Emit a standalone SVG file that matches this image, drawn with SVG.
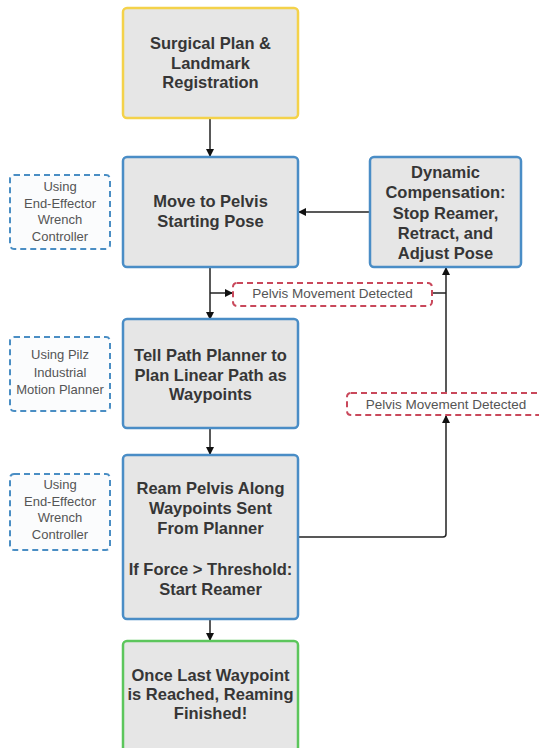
<svg xmlns="http://www.w3.org/2000/svg" width="539" height="748" viewBox="0 0 539 748">
<style>
.box{fill:#e6e6e6;stroke-width:2.5}
.blue{stroke:#4a8dc6}
.yellow{stroke:#f4d24a}
.green{stroke:#5cc65c}
.side{fill:#fbfcfd;stroke:#4a8ec4;stroke-width:2;stroke-dasharray:6 4}
.tag{fill:#ffffff;stroke:#c9485b;stroke-width:2;stroke-dasharray:6 4}
.t{font-family:"Liberation Sans",Arial,sans-serif;font-weight:bold;font-size:16.5px;fill:#363636;text-anchor:middle}
.s{font-family:"Liberation Sans",Arial,sans-serif;font-size:13px;fill:#555555;text-anchor:middle}
.l{font-family:"Liberation Sans",Arial,sans-serif;font-size:13.5px;fill:#555555;text-anchor:middle}
.c{fill:none;stroke:#222222;stroke-width:1.5}
</style>
<defs>
<marker id="ah" markerWidth="8" markerHeight="8" refX="7" refY="4" orient="auto" markerUnits="userSpaceOnUse">
<path d="M0,0 L8,4 L0,8 Z" fill="#111111"/>
</marker>
</defs>
<rect width="539" height="748" fill="#ffffff"/>
<g id="connectors">
<path class="c" d="M210,118 V156" marker-end="url(#ah)"/>
<path class="c" d="M370,212 H299" marker-end="url(#ah)"/>
<path class="c" d="M210,267 V319" marker-end="url(#ah)"/>
<path class="c" d="M210,293 H232" marker-end="url(#ah)"/>
<path class="c" d="M432,293 H446"/>
<path class="c" d="M446,393 V268" marker-end="url(#ah)"/>
<path class="c" d="M298,537 H443 Q446,537 446,534 V416" marker-end="url(#ah)"/>
<path class="c" d="M210,428 V454" marker-end="url(#ah)"/>
<path class="c" d="M210,619 V640" marker-end="url(#ah)"/>
</g>
<g id="n1">
<rect class="box yellow" x="123" y="8" width="175" height="110" rx="4"/>
<text class="t" x="210.5" y="49">Surgical Plan &amp;</text>
<text class="t" x="210.5" y="69">Landmark</text>
<text class="t" x="210.5" y="88">Registration</text>
</g>
<g id="n2">
<rect class="box blue" x="123" y="157" width="175" height="110" rx="4"/>
<text class="t" x="210.5" y="207">Move to Pelvis</text>
<text class="t" x="210.5" y="227">Starting Pose</text>
</g>
<g id="n3">
<rect class="box blue" x="370" y="157" width="151" height="110" rx="4"/>
<text class="t" x="445.5" y="178">Dynamic</text>
<text class="t" x="445.5" y="198">Compensation:</text>
<text class="t" x="445.5" y="219">Stop Reamer,</text>
<text class="t" x="445.5" y="239">Retract, and</text>
<text class="t" x="445.5" y="259">Adjust Pose</text>
</g>
<g id="s1">
<rect class="side" x="10" y="175" width="100" height="74" rx="4"/>
<text class="s" x="60" y="191">Using</text>
<text class="s" x="60" y="208">End-Effector</text>
<text class="s" x="60" y="224">Wrench</text>
<text class="s" x="60" y="241">Controller</text>
</g>
<g id="l1">
<rect class="tag" x="233" y="283" width="199" height="23" rx="4"/>
<text class="l" x="332.5" y="298">Pelvis Movement Detected</text>
</g>
<g id="n4">
<rect class="box blue" x="123" y="319" width="175" height="109" rx="4"/>
<text class="t" x="210.5" y="361">Tell Path Planner to</text>
<text class="t" x="210.5" y="381">Plan Linear Path as</text>
<text class="t" x="210.5" y="400">Waypoints</text>
</g>
<g id="s2">
<rect class="side" x="10" y="337" width="100" height="74" rx="4"/>
<text class="s" x="60" y="359">Using Pilz</text>
<text class="s" x="60" y="377">Industrial</text>
<text class="s" x="60" y="394">Motion Planner</text>
</g>
<g id="l2">
<rect class="tag" x="347" y="393" width="200" height="22" rx="4"/>
<text class="l" x="446" y="409">Pelvis Movement Detected</text>
</g>
<g id="n5">
<rect class="box blue" x="123" y="455" width="175" height="164" rx="4"/>
<text class="t" x="210.5" y="494">Ream Pelvis Along</text>
<text class="t" x="210.5" y="514">Waypoints Sent</text>
<text class="t" x="210.5" y="534">From Planner</text>
<text class="t" x="210.5" y="575">If Force &gt; Threshold:</text>
<text class="t" x="210.5" y="595">Start Reamer</text>
</g>
<g id="s3">
<rect class="side" x="10" y="474" width="100" height="76" rx="4"/>
<text class="s" x="60" y="489">Using</text>
<text class="s" x="60" y="506">End-Effector</text>
<text class="s" x="60" y="522">Wrench</text>
<text class="s" x="60" y="539">Controller</text>
</g>
<g id="n6">
<rect class="box green" x="123" y="641" width="175" height="112" rx="4"/>
<text class="t" x="210.5" y="681">Once Last Waypoint</text>
<text class="t" x="210.5" y="700">is Reached, Reaming</text>
<text class="t" x="210.5" y="719">Finished!</text>
</g>
</svg>
